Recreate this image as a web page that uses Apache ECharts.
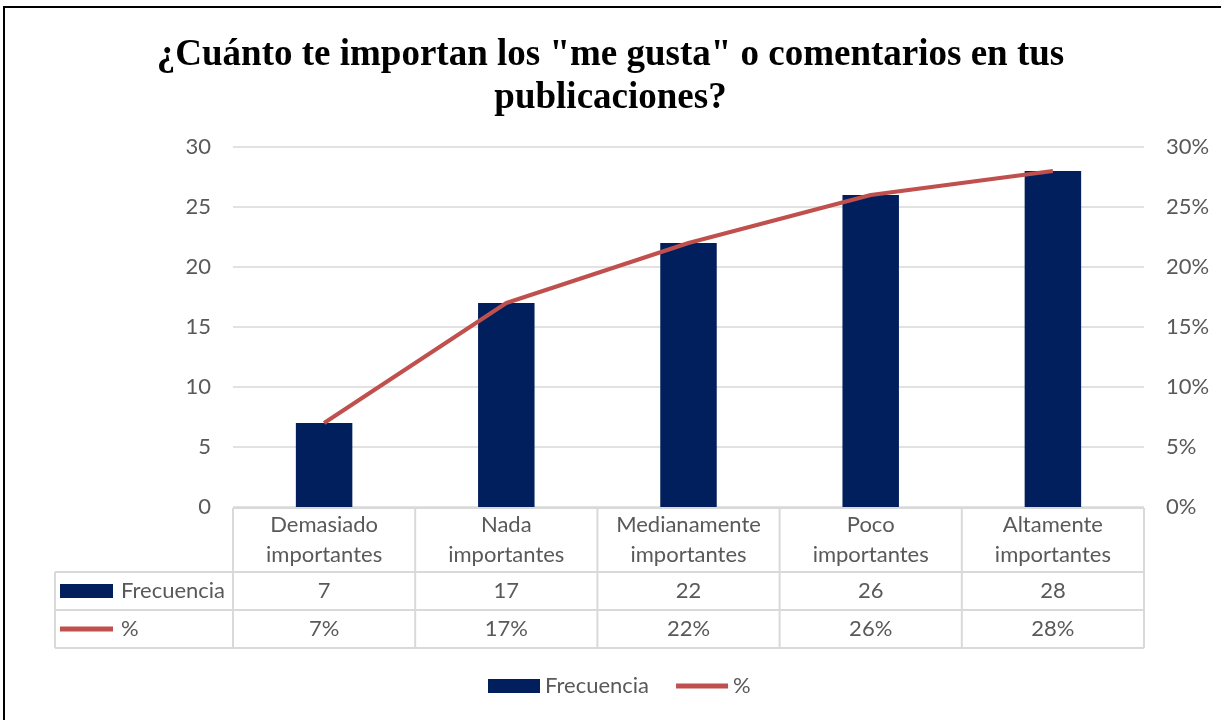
<!DOCTYPE html>
<html><head><meta charset="utf-8">
<script src="https://cdn.jsdelivr.net/npm/echarts@6/dist/echarts.min.js"></script>
<style>html,body{margin:0;padding:0;background:#fff}#c{width:1221px;height:720px}</style>
</head><body><div id="c"></div>
<script>
const titleText = '¿Cuánto te importan los "me gusta" o comentarios en tus\npublicaciones?';
const categories = ['Demasiado\nimportantes', 'Nada\nimportantes', 'Medianamente\nimportantes', 'Poco\nimportantes', 'Altamente\nimportantes'];
const frecuencia = [7, 17, 22, 26, 28];
const porcentaje = [0.07, 0.17, 0.22, 0.26, 0.28];
const leftTicks = [0, 5, 10, 15, 20, 25, 30];
const seriesNames = ['Frecuencia', '%'];

const FONT = 'Lato';
const FS = 22;
const GREY = '#595959';
const NAVY = '#001f5c';
const RED = '#c0504d';
const LINE = '#d9d9d9';
const pctFmt = v => Math.round(v * 100) + '%';

const chart = echarts.init(document.getElementById('c'), null, {renderer: 'canvas'});
const baseX = {
  type: 'category', gridIndex: 0, position: 'bottom',
  axisLine: {show: false}, axisTick: {show: false}, splitLine: {show: false},
  axisLabel: {color: GREY, fontFamily: FONT, fontSize: FS, lineHeight: 20, margin: 10, interval: 0}
};
const option = {
  backgroundColor: '#fff',
  animation: false,
  title: {
    text: titleText, left: 'center', top: 29,
    textStyle: {fontFamily: 'Liberation Serif', fontWeight: 'bold', fontSize: 37, lineHeight: 43, color: '#000'}
  },
  grid: {left: 233, right: 77, top: 147, bottom: 213, containLabel: false},
  legend: {
    bottom: 18, left: 483, itemWidth: 52, itemHeight: 14, itemGap: 27,
    textStyle: {color: GREY, fontFamily: FONT, fontSize: FS},
    data: [
      {name: seriesNames[0], icon: 'rect'},
      {name: seriesNames[1], icon: 'path://M0,0H52V5H0Z'}
    ]
  },
  xAxis: [
    Object.assign({}, baseX, {data: categories,
      axisLabel: {color: GREY, fontFamily: FONT, fontSize: FS, lineHeight: 30, margin: 3, interval: 0}}),
    Object.assign({}, baseX, {data: frecuencia.map(String), offset: 64}),
    Object.assign({}, baseX, {data: porcentaje.map(pctFmt), offset: 102})
  ],
  yAxis: [
    {type: 'value', min: leftTicks[0], max: leftTicks[leftTicks.length - 1], interval: 5,
     axisLine: {show: false}, axisTick: {show: false},
     axisLabel: {color: GREY, fontFamily: FONT, fontSize: FS, margin: 22},
     splitLine: {lineStyle: {color: LINE, width: 1.5}}},
    {type: 'value', min: 0, max: 0.3, interval: 0.05, position: 'right',
     axisLine: {show: false}, axisTick: {show: false},
     axisLabel: {color: GREY, fontFamily: FONT, fontSize: FS, margin: 22, formatter: pctFmt},
     splitLine: {show: false}}
  ],
  series: [
    {name: seriesNames[0], type: 'bar', xAxisIndex: 0, yAxisIndex: 0, data: frecuencia,
     barWidth: '31%', itemStyle: {color: NAVY}},
    {name: seriesNames[1], type: 'line', xAxisIndex: 0, yAxisIndex: 1, data: porcentaje,
     showSymbol: false, symbol: 'none', lineStyle: {color: RED, width: 4}, itemStyle: {color: RED}}
  ]
};
chart.setOption(option);

// Data table grid drawn from the axes' own pixel mapping
function drawTable() {
  const c0 = chart.convertToPixel({xAxisIndex: 0}, categories[0]);
  const c1 = chart.convertToPixel({xAxisIndex: 0}, categories[1]);
  const band = c1 - c0;
  const x0 = c0 - band / 2;
  const xEnd = x0 + band * categories.length;
  const yTop = chart.convertToPixel({yAxisIndex: 0}, 0);
  const r1 = yTop + 65, r2 = r1 + 38, r3 = r2 + 38;
  const tableLeft = 55;
  const ls = {stroke: LINE, lineWidth: 2};
  const els = [];
  const hl = (xa, xb, y) => els.push({type: 'line', shape: {x1: xa, y1: y, x2: xb, y2: y}, style: ls, silent: true});
  const vl = (x, ya, yb) => els.push({type: 'line', shape: {x1: x, y1: ya, x2: x, y2: yb}, style: ls, silent: true});
  hl(x0, xEnd, yTop + 1);
  hl(tableLeft, xEnd, r1);
  hl(tableLeft, xEnd, r2);
  hl(tableLeft, xEnd, r3);
  vl(tableLeft, r1, r3);
  for (let i = 0; i <= categories.length; i++) vl(x0 + band * i, yTop + 1, r3);
  // row legends
  els.push({type: 'rect', shape: {x: 60, y: (r1 + r2) / 2 - 7, width: 53, height: 14}, style: {fill: NAVY}, silent: true});
  els.push({type: 'text', x: 121, y: (r1 + r2) / 2, style: {text: seriesNames[0], fill: GREY, font: FS + 'px ' + FONT, verticalAlign: 'middle'}, silent: true});
  els.push({type: 'rect', shape: {x: 60, y: (r2 + r3) / 2 - 2.5, width: 53, height: 5}, style: {fill: RED}, silent: true});
  els.push({type: 'text', x: 121, y: (r2 + r3) / 2, style: {text: seriesNames[1], fill: GREY, font: FS + 'px ' + FONT, verticalAlign: 'middle'}, silent: true});
  // outer chart border
  els.push({type: 'rect', shape: {x: 4, y: 7, width: 1240, height: 740}, style: {fill: null, stroke: '#000', lineWidth: 2}, silent: true});
  chart.setOption({graphic: {elements: els}});
}
drawTable();
</script>
</body></html>
